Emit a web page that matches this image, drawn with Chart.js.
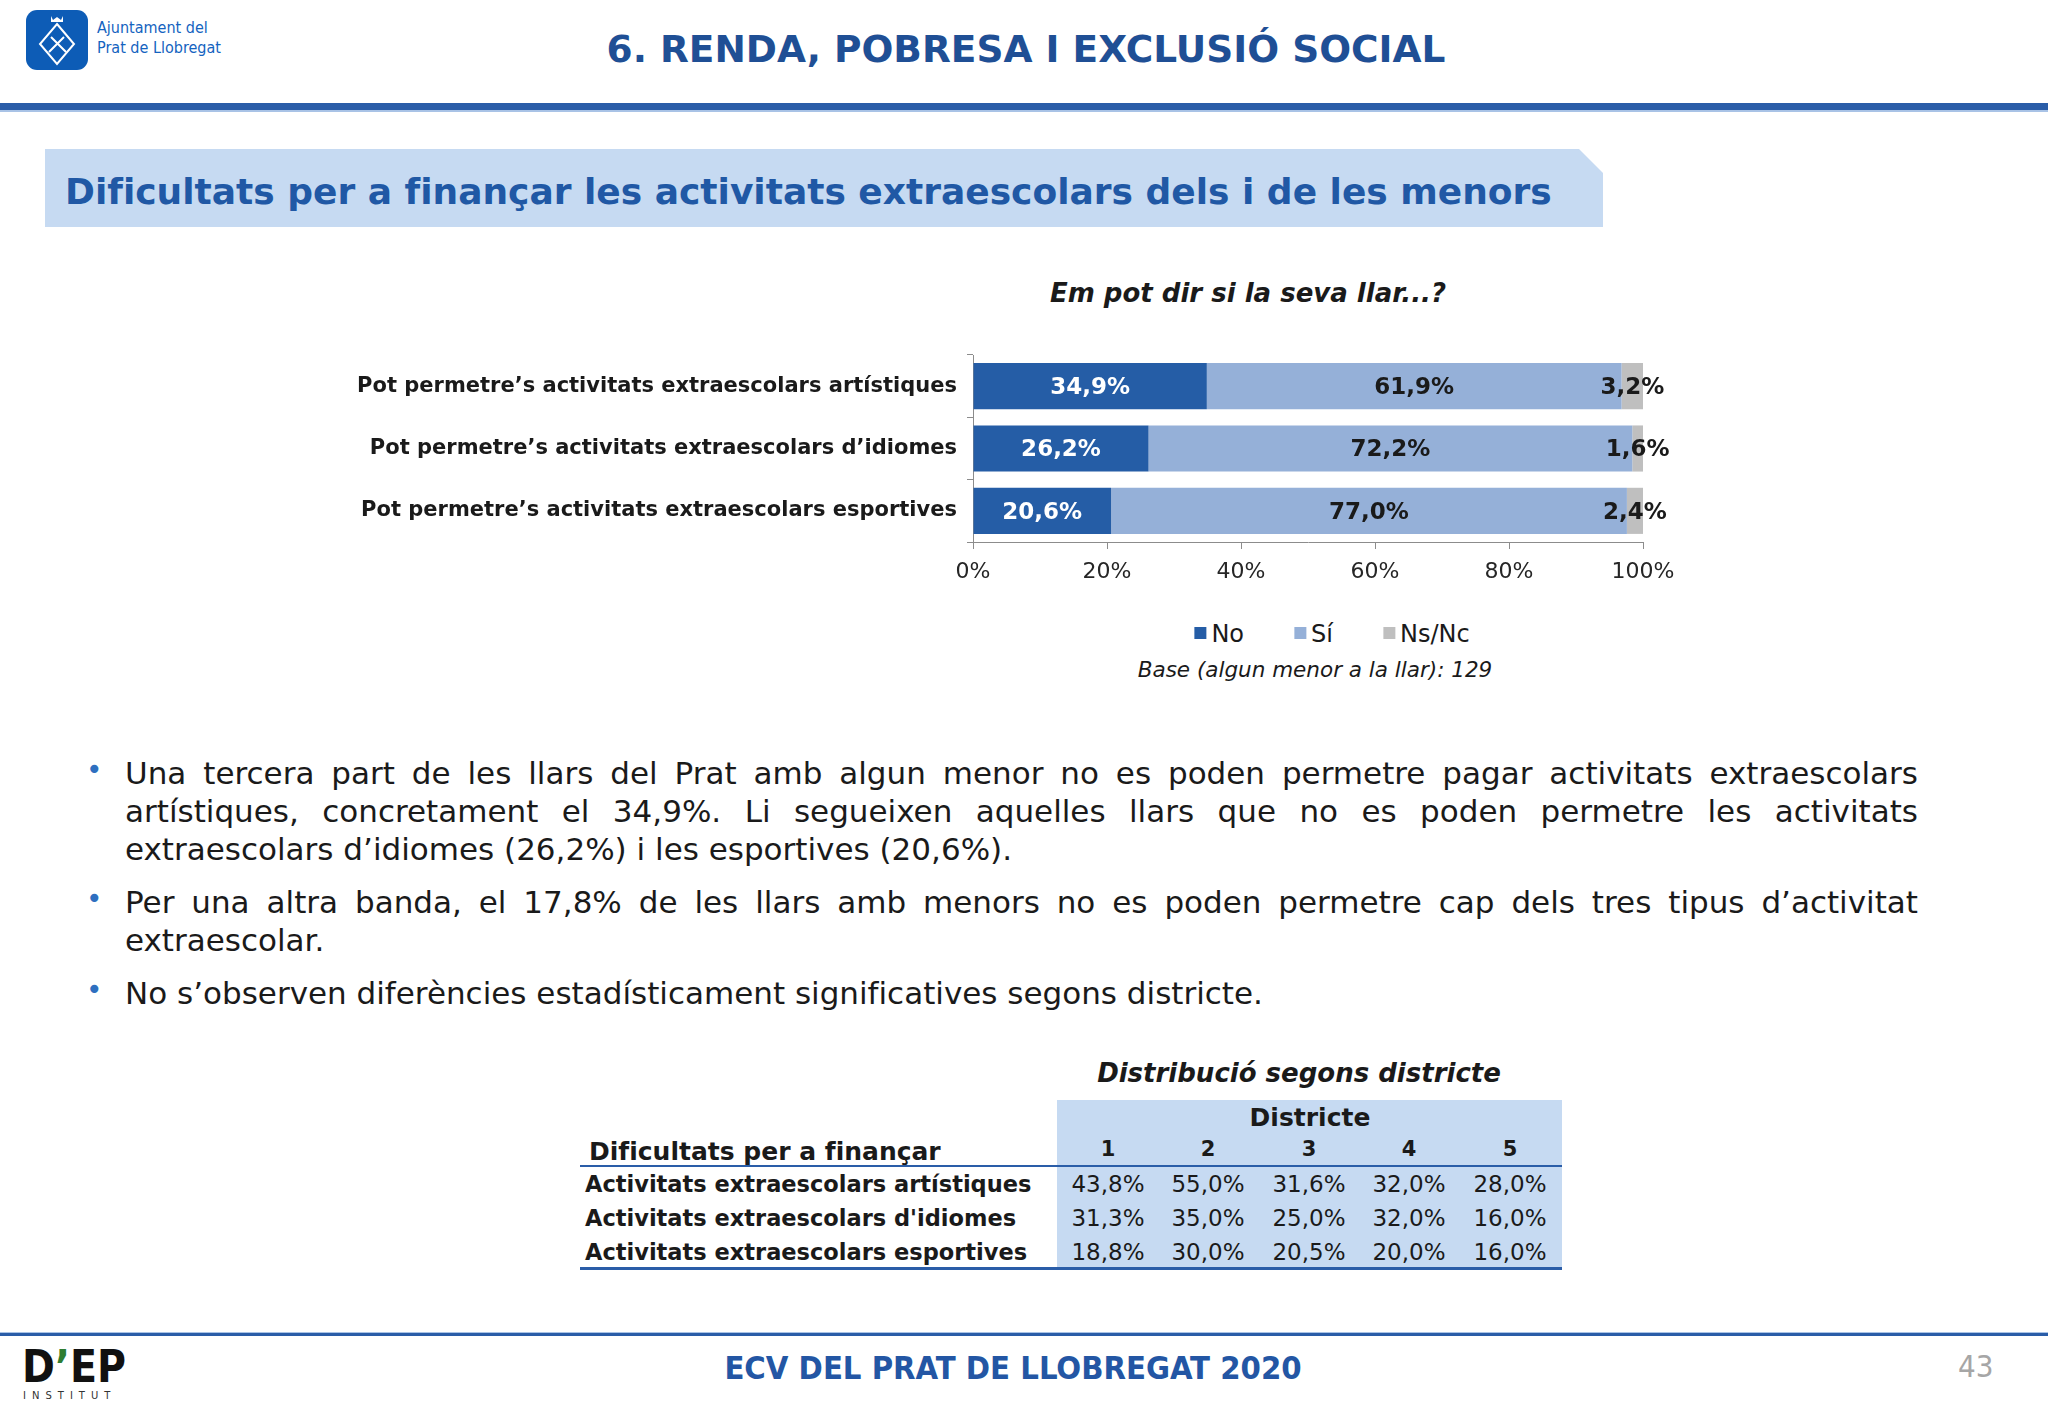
<!DOCTYPE html>
<html lang="ca">
<head>
<meta charset="utf-8">
<script src="https://cdn.jsdelivr.net/npm/chart.js@4.4.1/dist/chart.umd.min.js"></script>
<style>
  html, body { margin: 0; padding: 0; background: #fff; }
  body { width: 2048px; height: 1418px; position: relative; overflow: hidden; font-family: "DejaVu Sans", sans-serif; color: #1a1a1a; }
  .abs { position: absolute; }
  #titol { left: 0; width: 2048px; top: 27px; text-align: center; font-weight: bold; font-size: 37.5px; color: #1f4f95; margin-left: 2px; }
  #barra { left: 0; top: 103px; width: 2048px; height: 7px; background: #2a5da8; border-bottom: 2px solid #a9c3e6; }
  #caixa { left: 45px; top: 149px; width: 1558px; height: 78px; background: #c6daf2;
           clip-path: polygon(0 0, 1534px 0, 1558px 24px, 1558px 78px, 0 78px); }
  #subtitol { left: 65px; top: 171px; font-weight: bold; font-size: 36px; color: #2058a5; white-space: nowrap; }
  #pregunta { left: 0; width: 2496px; top: 278px; text-align: center; font-weight: bold; font-style: italic; font-size: 26px; color: #1a1a1a; }
  #grafic { left: 330px; top: 330px; width: 1370px; height: 270px; }
  #llegenda { left: 1332px; top: 620px; transform: translateX(-50%); display: flex; gap: 50px; font-size: 24px; white-space: nowrap; }
  #llegenda span.q { display: inline-block; width: 12px; height: 12px; margin-right: 5px; vertical-align: 3px; }
  #base { left: 0; width: 2630px; top: 657px; text-align: center; font-style: italic; font-size: 21.5px; }
  #bullets { left: 86px; top: 754px; width: 1832px; font-size: 31px; line-height: 38px; margin: 0; padding: 0; list-style: none; }
  #bullets li { position: relative; padding-left: 39px; text-align: justify; margin-bottom: 15px; }
  #bullets li::before { content: "•"; position: absolute; left: 0; top: -3px; color: #2e6fc0; font-size: 28px; }
  #titolTaula { left: 0; width: 2598px; top: 1058px; text-align: center; font-weight: bold; font-style: italic; font-size: 26px; }
  #fonsTaula { left: 1057px; top: 1100px; width: 505px; height: 167px; background: #c6daf2; }
  .linia { position: absolute; left: 580px; width: 982px; height: 2px; background: #2a5da8; }
  .cel { position: absolute; transform: translate(-50%, -50%); white-space: nowrap; font-size: 23px; }
  .fila { position: absolute; transform: translateY(-50%); white-space: nowrap; font-size: 22.5px; font-weight: bold; }
  #peu { left: 0; top: 1332px; width: 2048px; height: 3px; background: #2a5da8; border-top: 1px solid #a9c3e6; }
  #peuText { left: 0; width: 2026px; top: 1349px; text-align: center; font-weight: bold; font-size: 32.5px; color: #2356a4; font-family: "DejaVu Sans Condensed", "DejaVu Sans", sans-serif; }
  #pagina { left: 1958px; top: 1348px; font-size: 31px; color: #a6a6a6; font-family: "DejaVu Sans Condensed", "DejaVu Sans", sans-serif; }
  #dep { left: 22px; top: 1343px; font-family: "DejaVu Sans Condensed", "DejaVu Sans", sans-serif; font-weight: bold; font-size: 44px; line-height: 48px; color: #111; white-space: nowrap; }
  #dep span { color: #2e7d32; }
  #institut { left: 23px; top: 1390px; font-size: 10px; line-height: 12px; letter-spacing: 6px; color: #333; white-space: nowrap; }
</style>
</head>
<body>
<svg class="abs" style="left:26px;top:10px" width="62" height="60" viewBox="0 0 62 60">
  <rect x="0" y="0" width="62" height="60" rx="11" fill="#0d5cb6"/>
  <path d="M31 14 L48 34 L31 54 L14 34 Z" fill="none" stroke="#fff" stroke-width="2"/>
  <path d="M23 42 L38 27 M25 27 L40 42" stroke="#fff" stroke-width="2"/>
  <path d="M25 6 L27 10 L31 7 L35 10 L37 6 L37 12 L25 12 Z" fill="#fff"/>
</svg>
<div class="abs" style="left:97px;top:18px;font-size:16px;line-height:20px;color:#1463c0;font-family:'DejaVu Sans Condensed',sans-serif">Ajuntament del<br>Prat de Llobregat</div>
<div id="titol" class="abs">6. RENDA, POBRESA I EXCLUSIÓ SOCIAL</div>
<div id="barra" class="abs"></div>
<div id="caixa" class="abs"></div>
<div id="subtitol" class="abs">Dificultats per a finançar les activitats extraescolars dels i de les menors</div>
<div id="pregunta" class="abs">Em pot dir si la seva llar...?</div>
<div id="grafic" class="abs"><canvas id="myChart"></canvas></div>
<div id="llegenda" class="abs"></div>
<div id="base" class="abs">Base (algun menor a la llar): 129</div>
<ul id="bullets" class="abs">
  <li>Una tercera part de les llars del Prat amb algun menor no es poden permetre pagar activitats extraescolars artístiques, concretament el 34,9%. Li segueixen aquelles llars que no es poden permetre les activitats extraescolars d’idiomes (26,2%) i les esportives (20,6%).</li>
  <li>Per una altra banda, el 17,8% de les llars amb menors no es poden permetre cap dels tres tipus d’activitat extraescolar.</li>
  <li>No s’observen diferències estadísticament significatives segons districte.</li>
</ul>
<div id="titolTaula" class="abs">Distribució segons districte</div>
<div id="fonsTaula" class="abs"></div>
<div id="taula"></div>
<div id="peu" class="abs"></div>
<div id="dep" class="abs">D<span>’</span>EP</div>
<div id="institut" class="abs">INSTITUT</div>
<div id="peuText" class="abs">ECV DEL PRAT DE LLOBREGAT 2020</div>
<div id="pagina" class="abs">43</div>

<script>
// Dades del gràfic
const categories = [
  'Pot permetre’s activitats extraescolars artístiques',
  'Pot permetre’s activitats extraescolars d’idiomes',
  'Pot permetre’s activitats extraescolars esportives'
];
const series = ['No', 'Sí', 'Ns/Nc'];
const valorsNo = [34.9, 26.2, 20.6];
const valorsSi = [61.9, 72.2, 77.0];
const valorsNsNc = [3.2, 1.6, 2.4];
const ticksX = [0, 20, 40, 60, 80, 100];

// Dades de la taula
const districtes = ['1', '2', '3', '4', '5'];
const filesTaula = [
  'Activitats extraescolars artístiques',
  'Activitats extraescolars d\'idiomes',
  'Activitats extraescolars esportives'
];
const valorsTaula = [
  [43.8, 55.0, 31.6, 32.0, 28.0],
  [31.3, 35.0, 25.0, 32.0, 16.0],
  [18.8, 30.0, 20.5, 20.0, 16.0]
];

const colors = ['#255da6', '#95b0d8', '#bfbfbf'];
const colorsEtiqueta = ['#ffffff', '#1a1a1a', '#1a1a1a'];

const fmt = v => v.toFixed(1).replace('.', ',') + '%';

// Etiquetes dins de les barres
const etiquetes = {
  id: 'etiquetes',
  afterDatasetsDraw(chart) {
    const ctx = chart.ctx;
    ctx.save();
    ctx.font = 'bold 23px "DejaVu Sans"';
    ctx.textAlign = 'center';
    ctx.textBaseline = 'middle';
    chart.data.datasets.forEach((ds, i) => {
      chart.getDatasetMeta(i).data.forEach((bar, j) => {
        ctx.fillStyle = colorsEtiqueta[i];
        ctx.fillText(fmt(ds.data[j]), (bar.x + bar.base) / 2, bar.y + 2);
      });
    });
    ctx.restore();
  }
};

Chart.defaults.font.family = '"DejaVu Sans", sans-serif';
Chart.defaults.color = '#1a1a1a';

const ctx = document.getElementById('myChart').getContext('2d');
const myChart = new Chart(ctx, {
  type: 'bar',
  data: {
    labels: categories,
    datasets: [valorsNo, valorsSi, valorsNsNc].map((d, i) => ({
      label: series[i],
      data: d,
      backgroundColor: colors[i],
      borderWidth: 0,
      barPercentage: 0.74,
      categoryPercentage: 1
    }))
  },
  options: {
    indexAxis: 'y',
    responsive: true,
    maintainAspectRatio: false,
    animation: false,
    layout: { padding: { top: 25, right: 57, left: 0, bottom: 0 } },
    plugins: {
      legend: { display: false },
      tooltip: { enabled: false }
    },
    scales: {
      x: {
        stacked: true,
        min: 0,
        max: 100,
        afterFit: s => { s.height = 58; },
        afterBuildTicks: s => { s.ticks = ticksX.map(v => ({ value: v })); },
        ticks: { callback: v => v + '%', font: { size: 22 }, padding: 10, color: '#262626' },
        grid: { drawOnChartArea: false, drawTicks: true, tickLength: 7, color: '#8c8c8c' },
        border: { color: '#8c8c8c' }
      },
      y: {
        stacked: true,
        afterFit: s => { s.width = 643; },
        ticks: { font: { size: 21, weight: 'bold' }, padding: 10, color: '#1a1a1a' },
        grid: { drawOnChartArea: false, drawTicks: true, tickLength: 6, color: '#8c8c8c' },
        border: { color: '#8c8c8c' }
      }
    }
  },
  plugins: [etiquetes]
});

// Llegenda
const llegenda = document.getElementById('llegenda');
series.forEach((s, i) => {
  const el = document.createElement('div');
  el.innerHTML = '<span class="q" style="background:' + colors[i] + '"></span>' + s;
  llegenda.appendChild(el);
});

// Taula per districte
const taula = document.getElementById('taula');
const colX = [1108, 1208, 1309, 1409, 1510];
const filaY = [1184, 1218, 1252];
function afegir(cls, text, x, y, extra) {
  const el = document.createElement('div');
  el.className = cls;
  el.textContent = text;
  el.style.left = x + 'px';
  el.style.top = y + 'px';
  if (extra) Object.assign(el.style, extra);
  taula.appendChild(el);
}
afegir('cel', 'Districte', 1310, 1117, { fontWeight: 'bold', fontSize: '25px' });
afegir('fila', 'Dificultats per a finançar', 589, 1151, { fontSize: '25px' });
districtes.forEach((d, i) => afegir('cel', d, colX[i], 1149, { fontWeight: 'bold', fontSize: '21px' }));
filesTaula.forEach((f, r) => {
  afegir('fila', f, 585, filaY[r]);
  valorsTaula[r].forEach((v, c) => afegir('cel', fmt(v), colX[c], filaY[r]));
});
const l1 = document.createElement('div'); l1.className = 'linia'; l1.style.top = '1165px'; taula.appendChild(l1);
const l2 = document.createElement('div'); l2.className = 'linia'; l2.style.top = '1267px'; l2.style.height = '3px'; taula.appendChild(l2);
</script>
</body>
</html>
